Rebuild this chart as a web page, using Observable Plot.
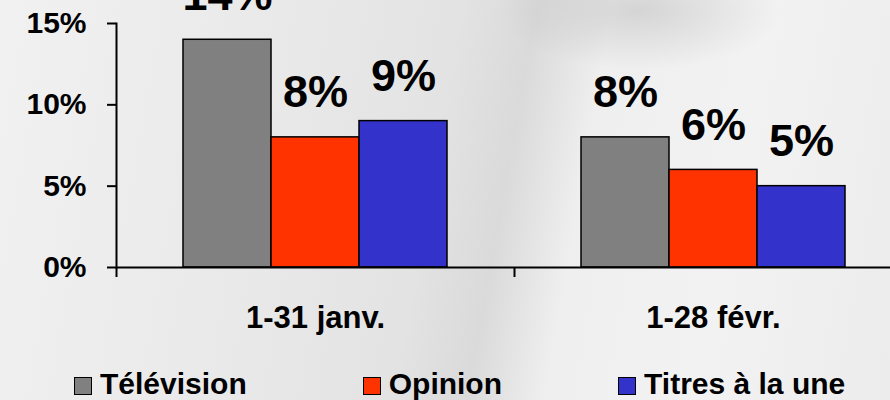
<!DOCTYPE html>
<html>
<head>
<meta charset="utf-8">
<script src="https://cdn.jsdelivr.net/npm/d3@7"></script>
<script src="https://cdn.jsdelivr.net/npm/@observablehq/plot@0.6"></script>
<style>
  html, body { margin: 0; padding: 0; }
  body {
    width: 890px; height: 400px; overflow: hidden;
    font-family: "Liberation Sans", Arial, sans-serif; font-weight: bold; color: #000;
    background:
      radial-gradient(ellipse 140px 60px at 640px 10px, rgba(150,150,150,0.3), rgba(150,150,150,0) 100%),
      linear-gradient(100deg, #f1f1f1 0%, #e9e9e9 30%, #e3e3e3 48%, #dadada 56%, #efefef 64%, #f2f2f2 80%, #ececec 100%);
  }
  #chart { width: 890px; height: 340px; overflow: hidden; }
  #chart svg { max-width: none !important; }
  #legend { position: absolute; left: 74px; top: 369px; display: flex; gap: 116px; font-size: 30px; line-height: 29px; white-space: nowrap; }
  #legend .item { display: flex; align-items: baseline; }
  #legend .sw { display: inline-block; width: 16px; height: 16px; border: 1.5px solid #000; margin-right: 8px; position: relative; top: 1px; }
</style>
</head>
<body>
<div id="chart"></div>
<div id="legend"></div>
<script>
const periods = ["1-31 janv.", "1-28 févr."];
const series = ["Télévision", "Opinion", "Titres à la une"];
const valuesTelevision = [14, 8];
const valuesOpinion = [8, 6];
const valuesTitres = [9, 5];
const colors = ["#808080", "#FF3300", "#3333CC"];
const yTicks = [0, 5, 10, 15];

const seriesValues = [valuesTelevision, valuesOpinion, valuesTitres];
const data = periods.flatMap((p, i) => series.map((s, j) => ({period: p, series: s, value: seriesValues[j][i]})));

const W = 912, ML = 116, MR = 0;
const fxBand = (W - ML - MR) / periods.length;

const chart = Plot.plot({
  width: W, height: 340,
  marginLeft: ML, marginRight: MR, marginTop: 23, marginBottom: 73,
  facet: {marginTop: 0, marginRight: 0, marginBottom: 0, marginLeft: 0},
  style: {background: "transparent", fontFamily: "'Liberation Sans', Arial, sans-serif", fontWeight: "bold", color: "#000", overflow: "visible", maxWidth: "none"},
  fx: {domain: periods, padding: 0, label: null},
  x: {domain: series, paddingInner: 0, paddingOuter: 0.76, axis: null},
  y: {domain: [0, 15], label: null},
  color: {domain: series, range: colors},
  marks: [
    Plot.barY(data, {fx: "period", x: "series", y: "value", fill: "series", stroke: "#000", strokeWidth: 1.5}),
    Plot.text(data, {fx: "period", x: "series", y: "value", text: d => d.value + "%", lineAnchor: "bottom", dy: -30, fontSize: 45, fontWeight: "bold", fill: "#000"}),
    Plot.ruleY([0], {stroke: "#000", strokeWidth: 2}),
    Plot.frame({anchor: "left", facet: "super", stroke: "#000", strokeWidth: 2}),
    Plot.axisY({ticks: yTicks, tickSize: 9, tickPadding: 21, tickFormat: d => d + "%", fontSize: 30, fontWeight: "bold", strokeWidth: 2, label: null}),
    Plot.axisFx({anchor: "bottom", tickSize: 0, tickPadding: 38, fontSize: 31, fontWeight: "bold", label: null}),
    Plot.axisFx({anchor: "bottom", tickSize: 10, text: null, dx: -fxBand / 2, strokeWidth: 2, label: null})
  ]
});
document.getElementById("chart").append(chart);

const legend = document.getElementById("legend");
series.forEach((s, i) => {
  const item = document.createElement("span");
  item.className = "item";
  const sw = document.createElement("span");
  sw.className = "sw";
  sw.style.background = colors[i];
  item.append(sw, document.createTextNode(s));
  legend.append(item);
});
</script>
</body>
</html>
